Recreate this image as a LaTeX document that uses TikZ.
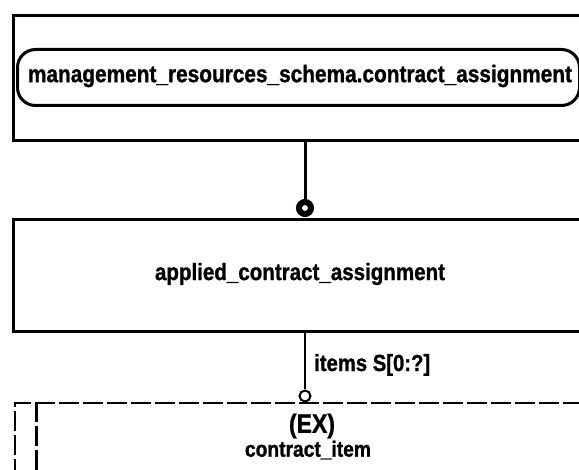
\documentclass[tikz,border=0pt]{standalone}
\usepackage{fontspec}
\setmainfont{Liberation Sans}
\newfontfamily\heavysans{Liberation Sans Bold}[FakeBold=1.2]
\usetikzlibrary{calc}
\newcommand{\tallbox}[2]{\scalebox{1}[1.15]{\resizebox{#1}{!}{#2}}}
\tikzset{
  heavybox/.style={draw, line width=3pt, anchor=north west, inner sep=0pt},
  lbl/.style={inner sep=0pt, font=\heavysans},
  thickconn/.style={line width=3pt},
  thinconn/.style={line width=1.5pt},
  dashline/.style={dash pattern=on 20pt off 4pt}
}
\begin{document}
\begin{tikzpicture}[x=1pt,y=-1pt]
\useasboundingbox (0,0) rectangle (579,470);
% top box with rounded inner label
\node[heavybox, minimum width=600pt, minimum height=125pt] (outer) at (12,14) {};
\node[draw, line width=3pt, rounded corners=18pt, anchor=north west, minimum width=562pt, minimum height=56pt, inner sep=0pt] (rr) at (16,48) {};
\node[lbl] (t1) at (300,76) {\tallbox{544pt}{management\_resources\_schema.contract\_assignment}};
% filled circle end
\node[circle, draw, line width=6pt, minimum size=12pt, inner sep=0pt, fill=white] (c1) at (305,208) {};
\draw[thickconn] (outer.south -| c1) -- (c1);
% middle box
\node[heavybox, minimum width=600pt, minimum height=112pt] (mid) at (12,218) {};
\node[lbl] (t2) at (300,274) {\tallbox{290pt}{applied\_contract\_assignment}};
% thin connector with open circle
\node[circle, draw, line width=2pt, minimum size=11pt, inner sep=0pt, fill=white] (c2) at (305,396) {};
\draw[thinconn] (mid.south -| c2) -- (c2);
\node[lbl, anchor=west] (t3) at (314,365) {\tallbox{116pt}{items S[0:?]}};
% dashed box
\node[draw, line width=2pt, dashline, anchor=north west, minimum width=620pt, minimum height=120pt, inner sep=0pt] (dbox) at (14,402) {};
\coordinate (inA) at ($(dbox.north west)+(22,0)$);
\coordinate (inB) at ($(dbox.south west)+(22,0)$);
\draw[line width=3pt, dashline] (inA) -- (inB);
\node[lbl] (t4) at (312,426) {\tallbox{46pt}{(EX)}};
\node[lbl] (t5) at (308,450) {\tallbox{126pt}{contract\_item}};
\end{tikzpicture}
\end{document}
